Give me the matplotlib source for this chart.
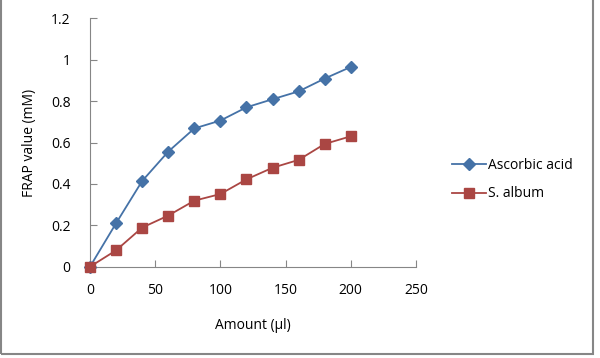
import matplotlib
matplotlib.use("Agg")
from matplotlib import pyplot as plt
from matplotlib.patches import Rectangle

amount = [0, 20, 40, 60, 80, 100, 120, 140, 160, 180, 200]
ascorbic = [0, 0.21, 0.414, 0.556, 0.668, 0.706, 0.77, 0.809, 0.847, 0.909, 0.965]
s_album = [0, 0.079, 0.189, 0.247, 0.319, 0.351, 0.422, 0.478, 0.516, 0.593, 0.63]
x_ticks = [0, 50, 100, 150, 200, 250]
y_ticks = [0, 0.2, 0.4, 0.6, 0.8, 1, 1.2]
y_labels = ["0", "0.2", "0.4", "0.6", "0.8", "1", "1.2"]

plt.rcParams['font.family'] = ['Open Sans', 'DejaVu Sans']
grey = "#868686"

fig = plt.figure(figsize=(6, 3.58), dpi=100)
ax = fig.add_axes([0.15, 0.255, 0.5433, 0.6939])

ax.plot(amount, ascorbic, color="#4572A7", marker="D", markersize=6.5, lw=1.3,
        label="Ascorbic acid", clip_on=False, zorder=3)
ax.plot(amount, s_album, color="#AA4643", marker="s", markersize=7, lw=1.3,
        label="S. album", clip_on=False, zorder=3)

ax.set_xlim(0, 250)
ax.set_ylim(0, 1.2)
ax.set_xticks(x_ticks)
ax.set_yticks(y_ticks)
ax.set_yticklabels(y_labels)
for side in ["top", "right"]:
    ax.spines[side].set_visible(False)
for side in ["left", "bottom"]:
    ax.spines[side].set_color(grey)
ax.tick_params(direction="in", length=5, color=grey, labelsize=10, pad=12)
ax.tick_params(axis="y", pad=14)
ax.set_xlabel("Amount (\u00b5l)", fontsize=10, labelpad=14)
ax.set_ylabel("FRAP value (mM)", fontsize=10, labelpad=10)

fig.legend(loc="upper left", bbox_to_anchor=(0.733, 0.593), frameon=False,
           fontsize=10, handlelength=2.4, labelspacing=0.95, handletextpad=0.15)

fig.patches.append(Rectangle((0.002, 0.011), 0.986, 1.1, transform=fig.transFigure,
                             fill=False, edgecolor=grey, lw=1.5))

fig.savefig("out.png", dpi=100)
